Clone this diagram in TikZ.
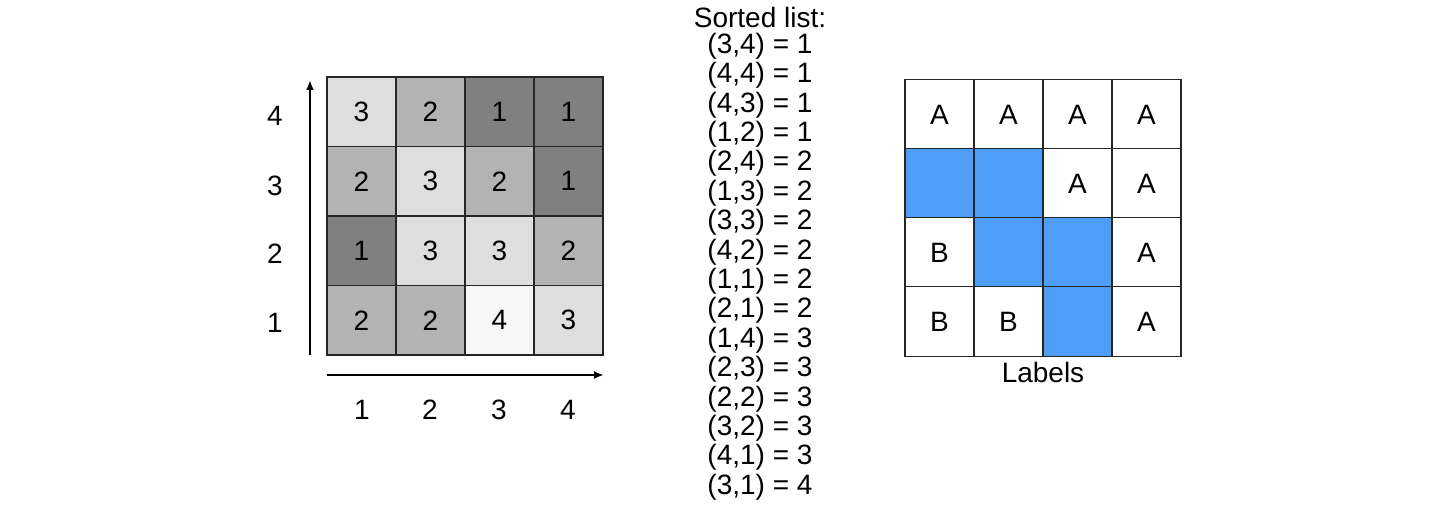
\documentclass[tikz,border=0pt]{standalone}
\usepackage{fontspec}
\setmainfont{Liberation Sans}
\usetikzlibrary{arrows.meta}
\definecolor{gA}{HTML}{808080}
\definecolor{gB}{HTML}{B3B3B3}
\definecolor{gC}{HTML}{DEDEDE}
\definecolor{gD}{HTML}{F7F7F7}
\definecolor{lblue}{HTML}{4E9EF8}
\begin{document}
\begin{tikzpicture}[x=0.5pt,y=-0.5pt,
  cell/.style={draw=black!85,line width=0.7pt,minimum width=34.5pt,minimum height=34.75pt,inner sep=0pt,font=\fontsize{14}{16}\selectfont,anchor=center},
  axlbl/.style={font=\fontsize{14}{16}\selectfont,inner sep=0pt},
  lst/.style={font=\fontsize{14}{16}\selectfont,inner sep=0pt},
  axis/.style={line width=1pt,-{Latex[length=5pt,width=4pt]}}]
\useasboundingbox (0,0) rectangle (1452,512);
% left grid
\foreach \r/\vals [count=\i] in {4/{3,2,1,1},3/{2,3,2,1},2/{1,3,3,2},1/{2,2,4,3}}{
  \foreach \v [count=\j] in \vals {
    \ifcase\v\or\def\col{gA}\or\def\col{gB}\or\def\col{gC}\or\def\col{gD}\fi
    \node[cell,fill=\col] (L\j\r) at ({327+(\j-0.5)*69},{77+(\i-0.5)*69.5}) {\v};
  }
}
\coordinate (ya) at (310,355);
\coordinate (yb) at (310,80);
\draw[axis] (ya) -- (yb);
\coordinate (xa) at (327,375);
\coordinate (xb) at (604,375);
\draw[axis] (xa) -- (xb);
\foreach \r/\y in {4/116,3/186,2/254,1/323}{
  \node[axlbl] (ry\r) at (275,\y) {\r};
}
\foreach \c/\x in {1/362,2/430,3/499,4/568}{
  \node[axlbl] (cx\c) at (\x,410) {\c};
}
% sorted list
\node[axlbl] (title) at (760,17) {Sorted list:};
\foreach \t [count=\k] in {(3,4) = 1,(4,4) = 1,(4,3) = 1,(1,2) = 1,(2,4) = 2,(1,3) = 2,(3,3) = 2,(4,2) = 2,(1,1) = 2,(2,1) = 2,(1,4) = 3,(2,3) = 3,(2,2) = 3,(3,2) = 3,(4,1) = 3,(3,1) = 4}{
  \node[lst] (s\k) at (760,{46+(\k-1)*29.4}) {\t};
}
% right grid
\foreach \vals [count=\i] in {{A,A,A,A},{X,X,A,A},{B,X,X,A},{B,B,X,A}}{
  \foreach \v [count=\j] in \vals {
    \if X\v
      \node[cell,fill=lblue] (R\j\i) at ({905+(\j-0.5)*69},{80+(\i-0.5)*69}) {};
    \else
      \node[cell,fill=white] (R\j\i) at ({905+(\j-0.5)*69},{80+(\i-0.5)*69}) {\v};
    \fi
  }
}
\node[axlbl] (labels) at (1043,372) {Labels};
\end{tikzpicture}
\end{document}
